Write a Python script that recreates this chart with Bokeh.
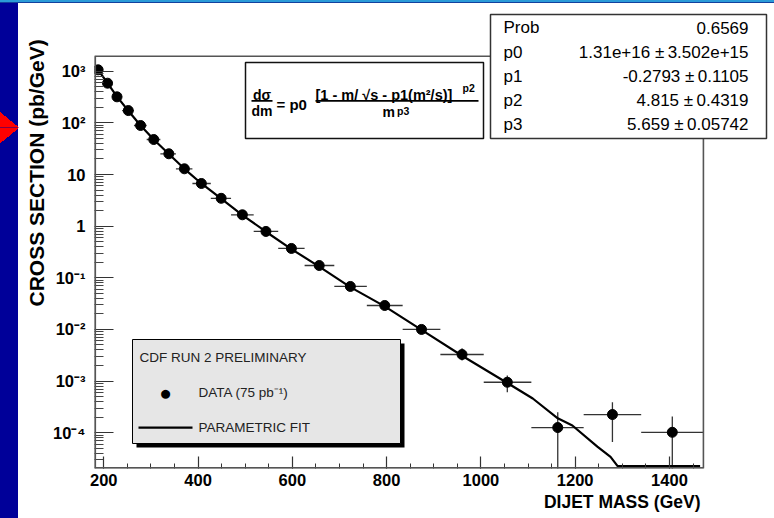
from bokeh.plotting import figure
from bokeh.models import (FixedTicker, Label, BoxAnnotation, CustomJSTickFormatter, Range1d, Title)
from bokeh.embed import file_html
from bokeh.resources import INLINE

# ---------------- data ----------------
mass = [188, 208, 228, 252, 278, 306, 338, 371, 407, 449, 494, 544, 598, 657,
        723, 796, 874, 960, 1056, 1163, 1279, 1406]
bin_edges = [180, 197, 218, 239, 264, 291, 320, 353, 388, 427, 470, 518, 570, 626,
             689, 758, 834, 914, 1006, 1107, 1218, 1340, 1472]
xsec = [1064, 586, 319, 173, 88.9, 47.6, 25.2, 12.9, 6.70, 3.46, 1.66, 0.79, 0.37, 0.173,
        0.068, 0.0291, 0.0100, 0.00327, 0.00095, 0.000126, 0.000225, 0.000102]
xsec_lo = [1040, 575, 313, 169, 87, 46.5, 24.5, 12.5, 6.5, 3.35, 1.6, 0.76, 0.35, 0.16,
           0.062, 0.026, 0.0085, 0.0025, 0.00061, 1e-7, 0.000066, 1e-7]
xsec_hi = [1090, 598, 326, 177, 91, 48.7, 25.9, 13.3, 6.9, 3.57, 1.72, 0.82, 0.39, 0.186,
           0.075, 0.033, 0.0118, 0.0043, 0.00129, 0.00025, 0.00039, 0.000207]
fit_mass = [182, 188, 208, 228, 252, 278, 306, 338, 371, 407, 449, 494, 544, 598, 657,
            723, 796, 874, 960, 1056, 1110, 1163, 1194, 1247, 1275, 1290, 1465]
fit_xsec = [1200, 1064, 590, 322, 172, 89, 47.5, 25, 12.9, 6.7, 3.4, 1.64, 0.78, 0.36, 0.165,
            0.066, 0.028, 0.0098, 0.0031, 0.00092, 0.00046, 0.00019, 0.000138, 0.000054,
            0.000034, 0.0000225, 0.0000225]

x_ticks = [200, 400, 600, 800, 1000, 1200, 1400]
x_minor_ticks = list(range(200, 1451, 50))
y_tick_exponents = [3, 2, 1, 0, -1, -2, -3, -4]
y_tick_labels = ["10\u00b3", "10\u00b2", "10", "1", "10\u207b\u00b9", "10\u207b\u00b2",
                 "10\u207b\u00b3", "10\u207b\u2074"]

stat_names = ["Prob", "p0", "p1", "p2", "p3"]
stat_values = ["0.6569", "1.31e+16 \u00b1\u20093.502e+15", "-0.2793 \u00b1\u20090.1105",
               "4.815 \u00b1\u20090.4319", "5.659 \u00b1\u20090.05742"]

legend_title = "CDF RUN 2 PRELIMINARY"
legend_data = "DATA (75 pb\u207b\u00b9)"
legend_fit = "PARAMETRIC FIT"

FONT = "Liberation Sans"

# axis window of the original frame
X_LO, X_HI = 180.3, 1472.0
Y_LO, Y_HI = 2.03e-5, 1950.0

# ---------------- figure ----------------
p = figure(width=774, height=518, y_axis_type="log", title=None,
           x_range=Range1d(X_LO, 1622.8), y_range=Range1d(Y_LO, 2.34e4),
           output_backend="svg", toolbar_location=None,
           min_border_left=94, min_border_right=0, min_border_top=0, min_border_bottom=50)
p.background_fill_color = None
p.border_fill_color = None
p.outline_line_color = None
p.xgrid.visible = False
p.ygrid.visible = False
p.styles = {
    "background-color": "white",
    "background-image": ", ".join([
        "linear-gradient(to bottom, #2b9bd8 0px, #2b9bd8 2px, #12409e 2px, #12409e 3.5px, rgba(0,0,0,0) 3.5px)",
        "linear-gradient(to top right, #ff0000 50%, rgba(255,0,0,0) 50%)",
        "linear-gradient(to bottom right, #ff0000 50%, rgba(255,0,0,0) 50%)",
        "linear-gradient(#000099, #000099)",
    ]),
    "background-size": "100% 4px, 19px 15.5px, 19px 15.5px, 18px 100%",
    "background-position": "0px 0px, 0px 112px, 0px 127.5px, 0px 0px",
    "background-repeat": "no-repeat",
}

AX = "#555555"
xa = p.xaxis[0]
xa.ticker = FixedTicker(ticks=x_ticks, minor_ticks=x_minor_ticks)
xa.axis_line_color = None
xa.major_tick_in = 12
xa.major_tick_out = 0
xa.minor_tick_in = 5
xa.minor_tick_out = 0
xa.major_tick_line_color = "#333333"
xa.minor_tick_line_color = "#333333"
xa.major_tick_line_width = 1.2
xa.major_label_text_font = FONT
xa.major_label_text_font_style = "bold"
xa.major_label_text_font_size = "16.5px"
xa.major_label_text_color = "black"
xa.major_label_standoff = 5

ya = p.yaxis[0]
y_major = [10.0 ** e for e in y_tick_exponents]
y_minor = [k * 10.0 ** e for e in range(-5, 3) for k in range(2, 10)]
ya.ticker = FixedTicker(ticks=y_major, minor_ticks=y_minor)
ya.formatter = CustomJSTickFormatter(
    args=dict(labels=y_tick_labels, exps=y_tick_exponents),
    code="const e = Math.round(Math.log10(tick)); const i = exps.indexOf(e); return i >= 0 ? labels[i] : '';")
ya.axis_line_color = None
ya.major_tick_in = 19
ya.major_tick_out = 0
ya.minor_tick_in = 9
ya.minor_tick_out = 0
ya.major_tick_line_color = "#333333"
ya.minor_tick_line_color = "#444444"
ya.major_label_text_font = FONT
ya.major_label_text_font_style = "bold"
ya.major_label_text_font_size = "16.5px"
ya.major_label_text_color = "black"
ya.major_label_standoff = 9

p.add_layout(Title(text="CROSS  SECTION (pb/GeV)", align="right", offset=33, standoff=3,
                   text_font=FONT, text_font_style="bold", text_font_size="21px",
                   text_color="black"), "left")
p.add_layout(Title(text="DIJET MASS (GeV)", align="right", offset=74, standoff=3,
                   text_font=FONT, text_font_style="bold", text_font_size="17.5px",
                   text_color="black"), "below")

# ---------------- frame lines of the original axes box ----------------
p.add_layout(BoxAnnotation(left=X_LO, right=X_HI, top=Y_HI, bottom=Y_LO, fill_alpha=0.0,
                           line_color=AX, line_width=1.6, line_alpha=1.0))
p.add_layout(BoxAnnotation(left=94, right=95.6, left_units="canvas", right_units="canvas",
                           top=Y_HI, bottom=Y_LO, fill_color=AX, fill_alpha=1.0, line_color=None))
p.add_layout(BoxAnnotation(left=X_LO, right=X_HI, top=466.4, top_units="canvas", bottom=Y_LO,
                           fill_color=AX, fill_alpha=1.0, line_color=None))

# ---------------- data glyphs ----------------
p.segment(x0=bin_edges[:-1], x1=bin_edges[1:], y0=xsec, y1=xsec,
          line_color="#333333", line_width=1.3)
p.segment(x0=mass, x1=mass, y0=xsec_lo, y1=xsec_hi, line_color="#333333", line_width=1.3)
p.line(fit_mass, fit_xsec, line_color="black", line_width=2.2)
p.scatter(mass, xsec, size=10, marker="circle", fill_color="black", line_color="black")


# ---------------- helpers ----------------
def box(l, r, t, b, fill, line=None, lw=1.0):
    p.add_layout(BoxAnnotation(left=l, right=r, top=t, bottom=b, left_units="canvas",
                               right_units="canvas", top_units="canvas", bottom_units="canvas",
                               fill_color=fill, fill_alpha=1.0, line_color=line, line_width=lw,
                               line_alpha=1.0))


def txt(x, y, s, size="13px", align="left", style="bold", color="black"):
    p.add_layout(Label(x=x, y=y, x_units="canvas", y_units="canvas", text=s, text_align=align,
                       text_baseline="middle", text_font=FONT, text_font_style=style,
                       text_font_size=size, text_color=color))


# ---------------- formula box ----------------
box(245, 483, 62, 138, "white", "#111111", 1.5)
txt(261.5, 94.5, "d\u03c3", size="14px", align="center")
box(251, 272, 99.6, 101.2, "black")
txt(261.5, 110, "dm", size="14px", align="center")
txt(276, 104, "= p0", size="15px")
txt(315, 94.5, "[1 - m/ \u221as - p1(m\u00b2/s)]", size="14.5px")
txt(462, 87, "p2", size="10.5px")
box(315, 478, 99.6, 101.2, "black")
txt(382, 111, "m", size="14px")
txt(396.5, 110, "p3", size="10.5px")

# ---------------- stats box ----------------
box(490, 766, 14, 138, "white", "#333333", 1.5)
row_y = [27, 52, 76, 100, 124]
for yy, n, v in zip(row_y, stat_names, stat_values):
    txt(503, yy, n, size="17px", style="normal")
    txt(748, yy, v, size="17px", align="right", style="normal")

# ---------------- legend box ----------------
box(136, 404, 343, 447, "black")
box(132, 400, 339, 443, "#e6e6e6", "black", 1.0)
txt(139, 357, legend_title, size="13.5px", style="normal", color="#222222")
txt(165, 392, "\u25cf", size="21px", align="center", style="normal")
txt(198, 392, legend_data, size="13.5px", style="normal", color="#222222")
box(138, 192, 426, 428.2, "black")
txt(198, 427, legend_fit, size="13.5px", style="normal", color="#222222")

open("out.html", "w").write(file_html(p, INLINE))
